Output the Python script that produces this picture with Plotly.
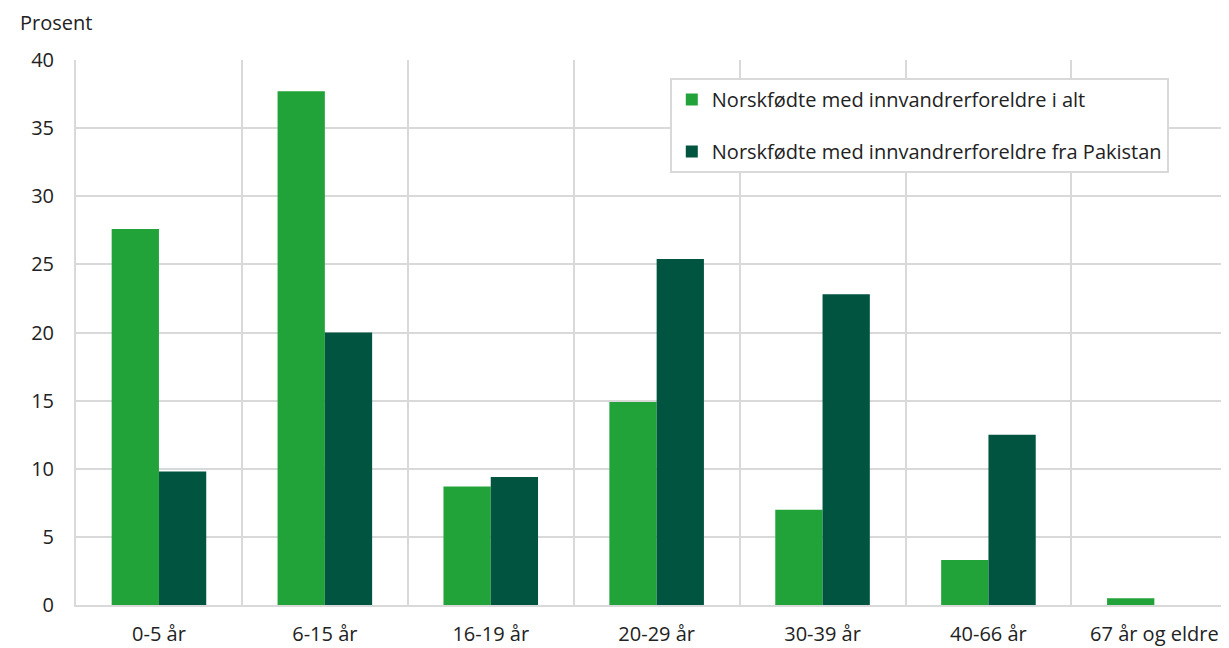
import plotly.graph_objects as go

categories = ["0-5 år", "6-15 år", "16-19 år", "20-29 år", "30-39 år", "40-66 år", "67 år og eldre"]
alt_values = [27.6, 37.7, 8.7, 14.9, 7.0, 3.3, 0.5]
pakistan_values = [9.8, 20.0, 9.4, 25.4, 22.8, 12.5, 0.0]
series_names = ["Norskfødte med innvandrerforeldre i alt", "Norskfødte med innvandrerforeldre fra Pakistan"]
y_ticks = [0, 5, 10, 15, 20, 25, 30, 35, 40]

FONT = "Open Sans"
GRID = "#d9d9d9"
FS = 20

fig = go.Figure()
fig.add_trace(go.Bar(x=categories, y=alt_values, name=series_names[0],
                     marker=dict(color="#22a33a", line=dict(width=0)), legendgroup="a"))
fig.add_trace(go.Bar(x=categories, y=pakistan_values, name=series_names[1],
                     marker=dict(color="#005440", line=dict(width=0)), legendgroup="b"))

fig.update_layout(
    width=1221, height=640,
    margin=dict(l=68, r=0, t=52, b=43),
    plot_bgcolor="white", paper_bgcolor="white",
    font=dict(family=FONT, size=FS, color="#222222"),
    barmode="group", bargap=0.43, bargroupgap=0,
    showlegend=True,
    legend=dict(x=0.515, y=0.967, xanchor="left", yanchor="top",
                bordercolor=GRID, borderwidth=2, bgcolor="white",
                font=dict(family=FONT, size=FS, color="#222222"),
                tracegroupgap=23, traceorder="grouped",
                itemwidth=30),
    xaxis=dict(type="category", tickson="boundaries", showgrid=True, gridcolor=GRID, gridwidth=1.5,
               range=[-0.5, 6.45], ticks="", showline=True, linecolor=GRID, linewidth=2,
               automargin=False,
               tickfont=dict(family=FONT, size=FS, color="#222222"), ticklabelstandoff=10),
    yaxis=dict(range=[0, 40], tickvals=y_ticks, showgrid=True, gridcolor=GRID, gridwidth=1.5,
               zeroline=False, ticks="", tickfont=dict(family=FONT, size=FS, color="#222222"),
               automargin=False,
               ticklabelstandoff=16, showline=True, linecolor=GRID, linewidth=2),
    annotations=[dict(text="Prosent", xref="paper", yref="paper", x=-0.0503, y=1.0, yshift=38,
                      xanchor="left", yanchor="middle", showarrow=False,
                      font=dict(family=FONT, size=FS, color="#222222"))],
)

fig.write_html("out.html")
